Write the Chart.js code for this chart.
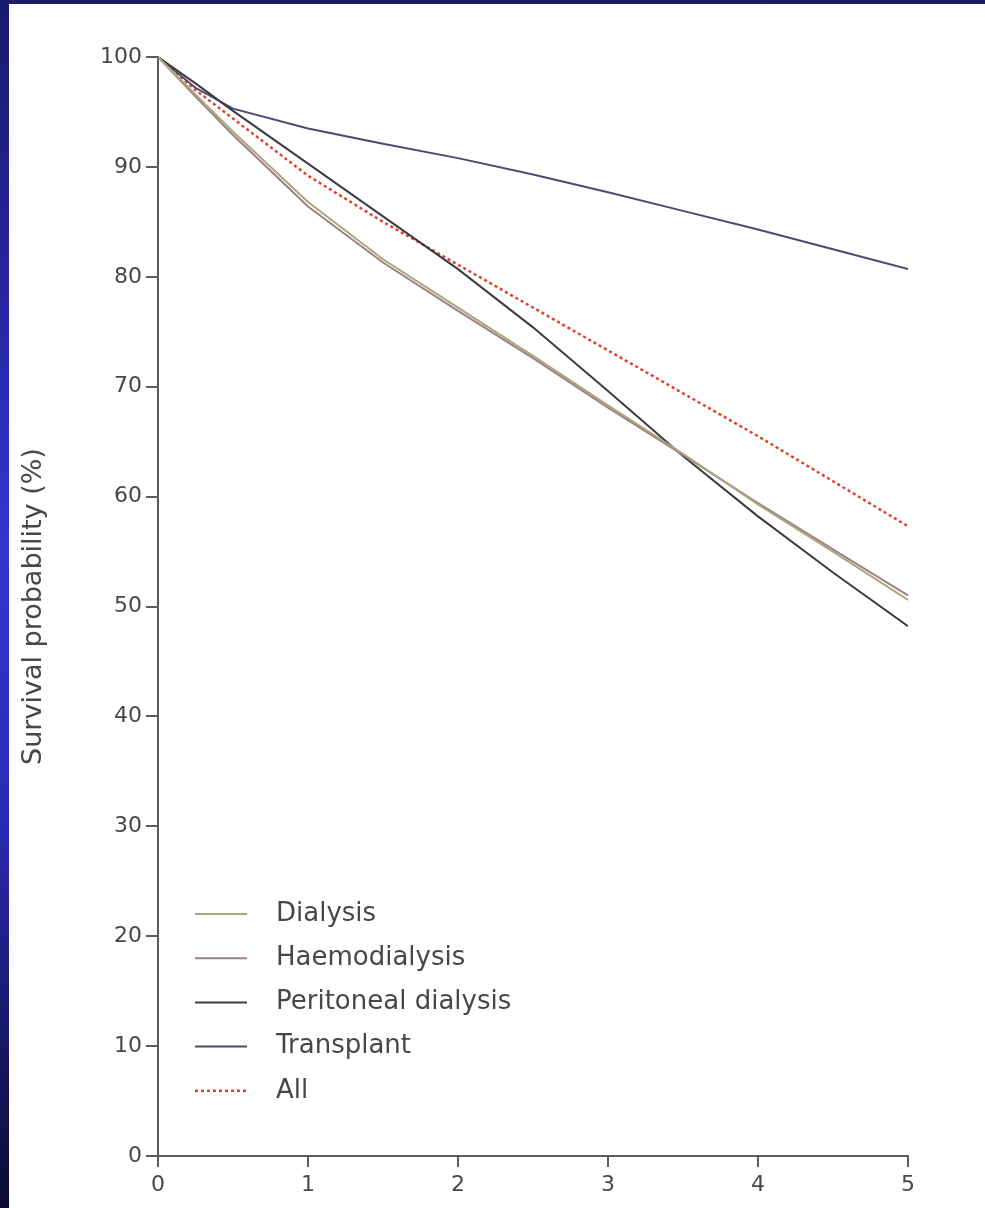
<!DOCTYPE html>
<html>
<head>
<meta charset="utf-8">
<script src="https://cdn.jsdelivr.net/npm/chart.js@4.4.1/dist/chart.umd.min.js"></script>
<style>
  html, body { margin: 0; padding: 0; }
  body {
    width: 985px; height: 1208px; overflow: hidden;
    background: linear-gradient(to bottom, #1b1b6c 0%, #2626a0 25%, #3434cf 45%, #2a2ab2 68%, #16165e 88%, #0b0b33 100%);
  }
  #box { position: absolute; left: 9px; top: 4px; width: 976px; height: 1204px; background: #fff; }
</style>
</head>
<body>
<div id="box"><canvas id="graph" width="976" height="1204"></canvas></div>
<script>
// years since start
const years = [0, 0.25, 0.5, 1, 1.5, 2, 2.5, 3, 3.5, 4, 4.5, 5];

const dialysis   = [100, 96.6, 93.2, 86.8, 81.6, 77.2, 72.8, 68.3, 63.9, 59.3, 55.0, 50.6];
const haemo      = [100, 96.4, 92.9, 86.4, 81.3, 76.9, 72.6, 68.1, 63.8, 59.4, 55.2, 51.0];
const peritoneal = [100, 97.6, 95.1, 90.3, 85.5, 80.7, 75.4, 69.6, 63.7, 58.2, 53.1, 48.2];
const transplant = [100, 97.2, 95.3, 93.5, 92.1, 90.8, 89.3, 87.7, 86.0, 84.3, 82.5, 80.7];
const all        = [100, 97.0, 94.4, 89.2, 85.0, 81.1, 77.2, 73.3, 69.4, 65.5, 61.4, 57.3];

const seriesNames = ['Dialysis', 'Haemodialysis', 'Peritoneal dialysis', 'Transplant', 'All'];
const xTicks = [0, 1, 2, 3, 4, 5];
const yTicks = [0, 10, 20, 30, 40, 50, 60, 70, 80, 90, 100];

function pts(vals) {
    return vals.map((v, i) => ({ x: years[i], y: v }));
}

const axisGrey = '#5c5c5c';
const textGrey = '#474747';

// legend drawn inside the plot, bottom left
const insideLegend = {
    id: 'insideLegend',
    afterDraw(chart) {
        const ctx = chart.ctx;
        const y0 = 910, step = 44.2;
        ctx.save();
        chart.data.datasets.forEach((ds, i) => {
            const y = y0 + i * step;
            ctx.beginPath();
            ctx.strokeStyle = ds.borderColor;
            ctx.lineWidth = ds.borderWidth;
            ctx.setLineDash(ds.borderDash || []);
            ctx.moveTo(186, y);
            ctx.lineTo(238, y);
            ctx.stroke();
            ctx.setLineDash([]);
            ctx.fillStyle = textGrey;
            ctx.font = '26px "DejaVu Sans"';
            ctx.textBaseline = 'middle';
            ctx.fillText(ds.label, 267, y);
        });
        ctx.restore();
    }
};

const ctx = document.getElementById('graph').getContext('2d');
const chart = new Chart(ctx, {
    type: 'line',
    data: {
        datasets: [
            { label: seriesNames[0], data: pts(dialysis),   borderColor: '#aaa67c', borderWidth: 2 },
            { label: seriesNames[1], data: pts(haemo),      borderColor: '#9c8086', borderWidth: 2 },
            { label: seriesNames[2], data: pts(peritoneal), borderColor: '#3a3c40', borderWidth: 2 },
            { label: seriesNames[3], data: pts(transplant), borderColor: '#4c4a72', borderWidth: 2 },
            { label: seriesNames[4], data: pts(all),        borderColor: '#e0402e', borderWidth: 2.5, borderDash: [3, 3] }
        ]
    },
    options: {
        responsive: false,
        animation: false,
        layout: { padding: { left: 9, right: 77, top: 53, bottom: 8 } },
        elements: {
            point: { radius: 0 },
            line: { tension: 0, fill: false }
        },
        plugins: {
            legend: { display: false },
            tooltip: { enabled: false }
        },
        scales: {
            x: {
                type: 'linear',
                min: 0, max: 5,
                afterBuildTicks: s => { s.ticks = xTicks.map(v => ({ value: v })); },
                afterFit: s => { s.height = 44; },
                grid: { drawOnChartArea: false, drawTicks: true, tickLength: 11, color: axisGrey, lineWidth: 2 },
                border: { display: true, color: axisGrey, width: 2 },
                ticks: { color: textGrey, font: { family: 'DejaVu Sans', size: 22 }, padding: 5 }
            },
            y: {
                min: 0, max: 100,
                afterBuildTicks: s => { s.ticks = yTicks.map(v => ({ value: v })); },
                afterFit: s => { s.width = 140; },
                grid: { drawOnChartArea: false, drawTicks: true, tickLength: 12, color: axisGrey, lineWidth: 2 },
                border: { display: true, color: axisGrey, width: 2 },
                ticks: { color: textGrey, font: { family: 'DejaVu Sans', size: 22 }, padding: 4 },
                title: {
                    display: true,
                    text: 'Survival probability (%)',
                    color: textGrey,
                    font: { family: 'DejaVu Sans', size: 27 },
                    padding: 0
                }
            }
        }
    },
    plugins: [insideLegend]
});
</script>
</body>
</html>
